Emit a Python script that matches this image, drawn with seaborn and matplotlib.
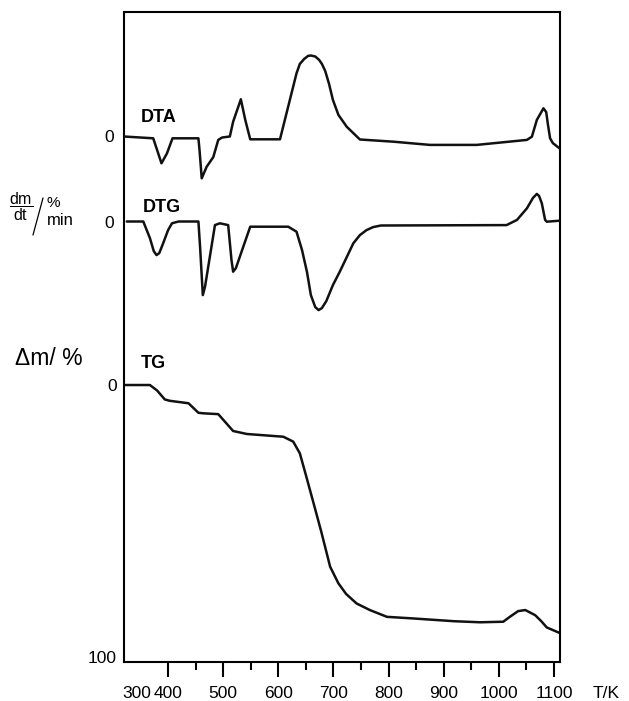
import matplotlib
matplotlib.use("Agg")
import matplotlib.pyplot as plt
import seaborn as sns
from matplotlib.lines import Line2D

# ---------------- data ----------------
dta_T = [320, 373, 380, 388, 398, 408, 455, 457, 461, 470, 482, 491, 498, 512, 518,
         532, 540, 549, 603, 633, 639, 647, 654, 659, 667, 674, 679, 685, 692, 699,
         709, 724, 748, 809, 875, 960, 1051, 1060, 1069, 1081, 1086, 1089, 1093, 1098, 1110]
dta_v = [0, -0.09, -0.67, -1.34, -0.84, -0.09, -0.09, -0.67, -2.09, -1.51, -1.03, -0.17,
         -0.05, 0.0, 0.74, 1.86, 0.83, -0.14, -0.14, 3.16, 3.63, 3.88, 4.03, 4.05, 4.0,
         3.83, 3.63, 3.28, 2.63, 1.83, 1.08, 0.49, -0.15, -0.26, -0.42, -0.42, -0.17,
         -0.01, 0.83, 1.41, 1.22, 0.62, -0.09, -0.33, -0.59]

dtg_T = [325, 355, 367, 374, 379, 384, 391, 400, 407, 419,
         455, 458, 463, 467, 485, 494, 509, 515, 518, 523,
         549, 618, 633, 643, 652, 659, 667, 673, 679, 687,
         699, 712, 725, 736, 748, 760, 772, 786, 1014, 1033,
         1051, 1062, 1069, 1073, 1078, 1084, 1087, 1110]
dtg_v = [0, 0, -0.83, -1.48, -1.68, -1.58, -1.09, -0.43, -0.09, 0,
         0, -1.26, -3.68, -3.26, -0.18, -0.09, -0.18, -1.93, -2.51, -2.33,
         -0.26, -0.26, -0.51, -1.43, -2.53, -3.68, -4.28, -4.43, -4.33, -3.98,
         -3.18, -2.48, -1.73, -1.09, -0.68, -0.43, -0.28, -0.2, -0.18, 0.08,
         0.66, 1.18, 1.38, 1.28, 0.91, 0.08, -0.01, 0.04]

tg_T = [320, 367, 380, 394, 403, 437, 455, 464, 491, 518,
        543, 609, 627, 639, 650, 664, 678, 694, 709, 723,
        742, 766, 797, 845, 918, 966, 1008, 1020, 1035, 1048,
        1066, 1077, 1087, 1110]
tg_v = [0, 0, 2.0, 5.3, 5.8, 6.7, 10.2, 10.4, 10.7, 16.9,
        18.0, 19.0, 20.8, 25.1, 33.1, 43.5, 54.0, 66.8, 72.9, 76.8,
        80.3, 82.7, 85.2, 85.8, 86.8, 87.2, 87.0, 85.2, 83.1, 82.7,
        84.6, 86.8, 89.1, 91.1]

x_major = [400, 500, 600, 700, 800, 900, 1000, 1100]
x_minor = [450, 550, 650, 750, 850, 950, 1050]
x_labels = ["400", "500", "600", "700", "800", "900", "1000", "1100"]
tg_ticks = [0, 100]
tg_labels = ["0", "100"]

# ---------------- style ----------------
sns.set_style("white")
plt.rcParams['font.family'] = ['Liberation Sans', 'DejaVu Sans']
plt.rcParams['text.color'] = 'black'
plt.rcParams['xtick.color'] = 'black'
plt.rcParams['ytick.color'] = 'black'
plt.rcParams['xtick.labelcolor'] = 'black'
plt.rcParams['ytick.labelcolor'] = 'black'
plt.rcParams['axes.labelcolor'] = 'black'

W_PX, H_PX = 629, 701
fig = plt.figure(figsize=(W_PX / 100, H_PX / 100), dpi=100)
fig.patch.set_facecolor("white")


def fx(x):
    return x / W_PX


def fy(y):
    return 1 - y / H_PX


rect = [fx(124), fy(662), fx(560) - fx(124), fy(12) - fy(662)]
XLIM = (320, 1111)

ax = fig.add_axes(rect)
ax_dta = fig.add_axes(rect)
ax_dtg = fig.add_axes(rect)

line_kw = dict(color="#111111", linewidth=1.8, sort=False, estimator=None)

# TG (main axes)
sns.lineplot(x=tg_T, y=tg_v, ax=ax, **line_kw)
ax.set_xlim(*XLIM)
ax.set_ylim(101.8, -137.1)
ax.set_xticks(x_major)
ax.set_xticklabels(x_labels)
ax.set_xticks(x_minor, minor=True)
ax.set_yticks(tg_ticks)
ax.set_yticklabels(tg_labels)
ax.tick_params(axis="x", which="major", direction="out", length=10.5, width=1.5,
               colors="black", labelsize=12.5, pad=7, bottom=True)
ax.tick_params(axis="x", which="minor", direction="out", length=6, width=1.5,
               colors="black", bottom=True)
ax.tick_params(axis="y", length=0, labelsize=12.5, pad=5, colors="black")
for s in ax.spines.values():
    s.set_visible(True)
    s.set_color("black")
    s.set_linewidth(1.5)
ax.set_xlabel("")
ax.set_ylabel("")

# DTA overlay
sns.lineplot(x=dta_T, y=dta_v, ax=ax_dta, **line_kw)
ax_dta.set_xlim(*XLIM)
ax_dta.set_ylim(-26.275, 6.225)

# DTG overlay
sns.lineplot(x=dtg_T, y=dtg_v, ax=ax_dtg, **line_kw)
ax_dtg.set_xlim(*XLIM)
ax_dtg.set_ylim(-22.025, 10.475)

for a in (ax_dta, ax_dtg):
    a.patch.set_visible(False)
    for s in a.spines.values():
        s.set_visible(False)
    a.set_xticks([])
    a.set_yticks([0])
    a.set_yticklabels(["0"])
    a.tick_params(axis="y", length=0, labelsize=12.5, pad=7, colors="black")
    a.set_xlabel("")
    a.set_ylabel("")

# curve names
ax_dta.text(382, 0.74, "DTA", ha="center", va="baseline", fontsize=13, fontweight="bold")
ax_dtg.text(388, 0.49, "DTG", ha="center", va="baseline", fontsize=13, fontweight="bold")
ax.text(374, -6.1, "TG", ha="center", va="baseline", fontsize=13, fontweight="bold")

# extra x labels
fig.text(fx(137), fy(697.5), "300", ha="center", va="baseline", fontsize=12.5)
fig.text(fx(606), fy(697.5), "T/K", ha="center", va="baseline", fontsize=12.5)

# left axis labels
fig.text(fx(21.5), fy(206.5), r"$\dfrac{\mathregular{dm}}{\mathregular{dt}}$",
         ha="center", va="center", fontsize=11.5)
fig.add_artist(Line2D([fx(33), fx(43)], [fy(235), fy(198)], color="black", lw=0.9))
fig.text(fx(53), fy(207), "%", ha="center", va="baseline", fontsize=11)
fig.text(fx(60.5), fy(225), "min", ha="center", va="baseline", fontsize=12)

fig.text(fx(15), fy(365), "\u0394m/ %", ha="left", va="baseline", fontsize=16.5)

fig.savefig("out.png", dpi=100, facecolor="white")
